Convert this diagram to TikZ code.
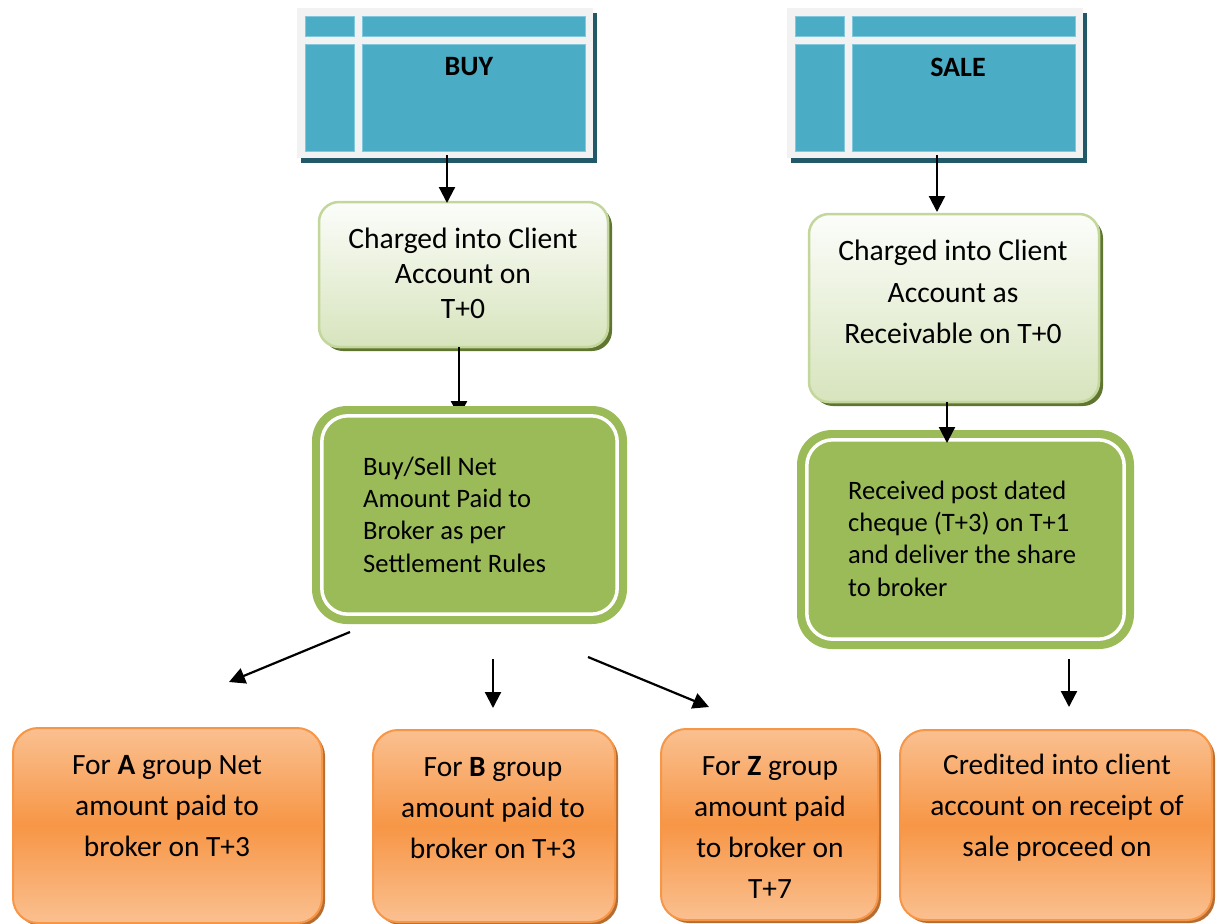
\documentclass[tikz,border=0pt]{standalone}
\usepackage{fontspec}
\setmainfont{Carlito}
\usetikzlibrary{arrows.meta,shadows}
\definecolor{cellblue}{RGB}{75,172,198}
\definecolor{cellline}{RGB}{130,200,220}
\definecolor{framegray}{RGB}{242,242,242}
\definecolor{tshadow}{RGB}{33,89,104}
\definecolor{lgborder}{RGB}{195,214,155}
\definecolor{lgtop}{RGB}{252,253,250}
\definecolor{lgbot}{RGB}{215,228,189}
\definecolor{lgshadow}{RGB}{95,117,48}
\definecolor{ggreen}{RGB}{155,187,89}
\definecolor{oborder}{RGB}{247,150,70}
\definecolor{otop}{RGB}{250,192,144}
\definecolor{omid}{RGB}{247,150,70}
\definecolor{oshadow}{RGB}{182,109,49}
\begin{document}
\begin{tikzpicture}[x=1pt,y=-1pt,
  arr/.style={line width=2.2pt,-{Triangle[length=16pt,width=16pt]}},
  tframe/.style={fill=framegray,draw=none,minimum width=296pt,minimum height=150pt,inner sep=0pt,
    general shadow={fill=tshadow,shadow xshift=4pt,shadow yshift=-5pt}},
  tcell/.style={fill=cellblue,draw=cellline,line width=0.6pt},
  lbox/.style={rounded corners=20pt,draw=lgborder,line width=2.5pt,top color=lgtop,bottom color=lgbot,inner sep=0pt,
    general shadow={fill=lgshadow,shadow xshift=4pt,shadow yshift=-4pt}},
  gbox/.style={rounded corners=35pt,fill=ggreen,draw=none,inner sep=0pt},
  ring/.style={draw=white,line width=3.5pt,rounded corners=26pt},
  obox/.style={rounded corners=25pt,draw=oborder,line width=2pt,top color=otop,bottom color=otop,middle color=omid,inner sep=0pt,
    general shadow={fill=oshadow,shadow xshift=3pt,shadow yshift=-3pt}},
  ttl/.style={font=\bfseries\fontsize{28}{32}\selectfont,inner sep=0pt},
  lt/.style={font=\fontsize{29.6}{35}\selectfont,align=center,inner sep=0pt},
  ltb/.style={font=\fontsize{29.6}{41.5}\selectfont,align=center,inner sep=0pt},
  gt/.style={font=\fontsize{26.6}{32.3}\selectfont,align=left,inner sep=0pt,anchor=west},
  ot/.style={font=\fontsize{29.4}{41}\selectfont,align=center,inner sep=0pt}
]
\useasboundingbox (0,0) rectangle (1216,924);

% tables
\node[tframe] (buy) at (445,83) {};
\node[tframe] (sale) at (935,83) {};
\foreach \dx in {0,490}{
  \begin{scope}[xshift=\dx pt]
    \path[tcell] (305,16) rectangle (354,36);
    \path[tcell] (362,16) rectangle (585,36);
    \path[tcell] (305,44) rectangle (354,151);
    \path[tcell] (362,44) rectangle (585,151);
  \end{scope}
}
\node[ttl] (buyt) at (469,67) {BUY};
\node[ttl] (salet) at (958,67) {SALE};

% first green boxes
\node[lbox,minimum width=289pt,minimum height=145pt] (c1) at (463.5,274.5) {};
\node[lt] (c1t) at (463,273) {Charged into Client\\Account on\\T+0};
\node[lbox,minimum width=290pt,minimum height=188pt] (c2) at (954,308) {};
\node[ltb] (c2t) at (953,292) {Charged into Client\\Account as\\Receivable on T+0};

% arrow hidden partly under box
\coordinate (a3s) at (459,347);
\coordinate (a3e) at (459,417);
\draw[arr] (a3s) -- (a3e);

% second green boxes
\node[gbox,minimum width=315pt,minimum height=218pt] (g1) at (469.5,515) {};
\draw[ring] ([shift={(10,10)}]g1.north west) rectangle ([shift={(-10,-10)}]g1.south east);
\node[gt] (g1t) at (363,514.5) {Buy/Sell Net\\Amount Paid to\\Broker as per\\Settlement Rules};
\node[gbox,minimum width=337pt,minimum height=219pt] (g2) at (965.5,539.5) {};
\draw[ring] ([shift={(10,10)}]g2.north west) rectangle ([shift={(-10,-10)}]g2.south east);
\node[gt] (g2t) at (848,538.5) {Received post dated\\cheque (T+3) on T+1\\and deliver the share\\to broker};

% orange boxes
\node[obox,minimum width=309pt,minimum height=195pt] (oa) at (167.5,825.5) {};
\node[ot] (oat) at (167,806.5) {For \textbf{A} group Net\\amount paid to\\broker on T+3};
\node[obox,minimum width=242pt,minimum height=192pt] (ob) at (494,826) {};
\node[ot] (obt) at (493,808.5) {For \textbf{B} group\\amount paid to\\broker on T+3};
\node[obox,minimum width=217pt,minimum height=191pt] (oz) at (769.5,824.5) {};
\node[ot] (ozt) at (770,827.5) {For \textbf{Z} group\\amount paid\\to broker on\\T+7};
\node[obox,minimum width=312pt,minimum height=190pt] (oc) at (1056,825) {};
\node[ot] (oct) at (1057,807.5) {Credited into client\\account on receipt of\\sale proceed on};

% arrows
\coordinate (a1s) at (447,155);
\coordinate (a1e) at (447,203);
\draw[arr] (a1s) -- (a1e);
\coordinate (a2s) at (937,155);
\coordinate (a2e) at (937,212);
\draw[arr] (a2s) -- (a2e);
\coordinate (a4s) at (947,402);
\coordinate (a4e) at (947,443);
\draw[arr] (a4s) -- (a4e);
\coordinate (a5s) at (350,632);
\coordinate (a5e) at (229,682);
\draw[arr] (a5s) -- (a5e);
\coordinate (a6s) at (493,659);
\coordinate (a6e) at (493,708);
\draw[arr] (a6s) -- (a6e);
\coordinate (a7s) at (588,657);
\coordinate (a7e) at (709,707);
\draw[arr] (a7s) -- (a7e);
\coordinate (a8s) at (1069,659);
\coordinate (a8e) at (1069,707);
\draw[arr] (a8s) -- (a8e);
\end{tikzpicture}
\end{document}
